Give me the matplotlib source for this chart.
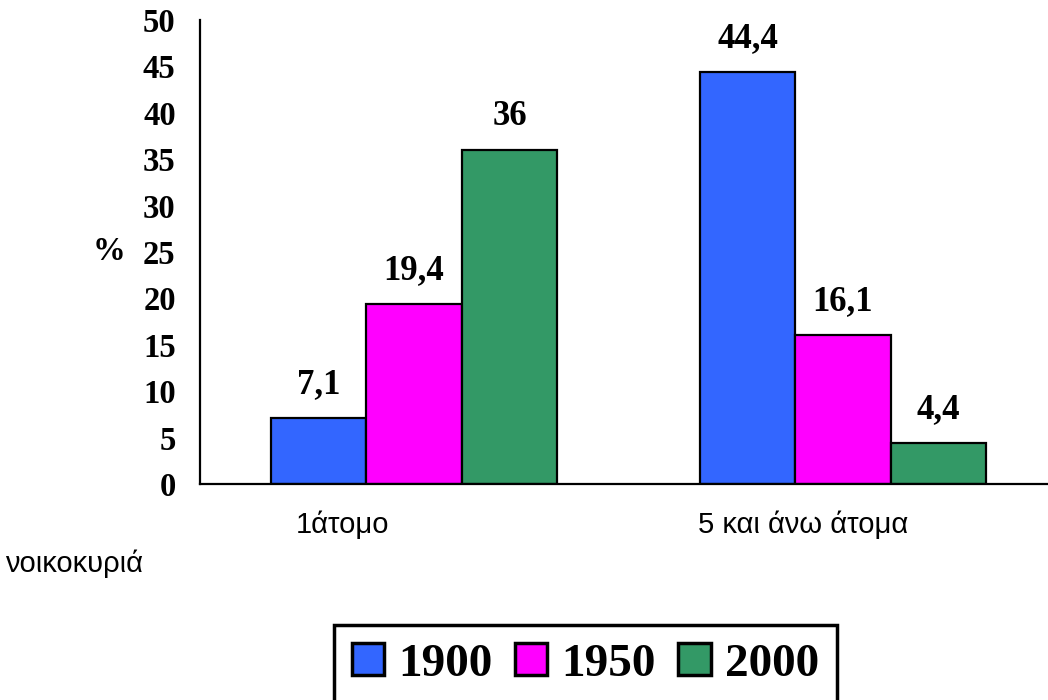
import numpy as np
import matplotlib
matplotlib.use("Agg")
import matplotlib.pyplot as plt

# data
categories = ["1άτομο", "5 και άνω άτομα"]
years = ["1900", "1950", "2000"]
values_1900 = [7.1, 44.4]
values_1950 = [19.4, 16.1]
values_2000 = [36, 4.4]
colors = ["#3366FF", "#FF00FF", "#339966"]

serif = ["Liberation Serif", "DejaVu Serif"]
sans = ["Liberation Sans", "DejaVu Sans"]

fig = plt.figure(figsize=(10.48, 7.0), dpi=100)
ax = fig.add_axes([200 / 1048, 1 - 484 / 700, 848 / 1048, 464 / 700])

x = np.arange(len(categories))
w = 0.2226
series = [values_1900, values_1950, values_2000]
for i, (vals, col, yr) in enumerate(zip(series, colors, years)):
    bars = ax.bar(x + (i - 1) * w, vals, w, color=col, edgecolor="black",
                  linewidth=1.6, label=yr)
    labels = ["{:g}".format(v).replace(".", ",") for v in vals]
    ax.bar_label(bars, labels=labels, padding=12, fontsize=25,
                 fontweight="bold", family=serif)

ax.set_xlim(-0.4988, 1.478)
ax.set_ylim(0, 50)
ax.set_yticks(np.arange(0, 51, 5))
ax.tick_params(axis="y", length=0, pad=17.5)
for t in ax.get_yticklabels():
    t.set_fontsize(23.5)
    t.set_fontweight("bold")
    t.set_family(serif)

# category labels are offset from the bar groups in the original
ax.set_xticks([-0.166, 0.907])
ax.set_xticklabels(categories, fontsize=21, family=sans)
ax.tick_params(axis="x", length=0, pad=19)

ax.set_ylabel("%", rotation=0, fontsize=23.5, fontweight="bold", family=serif,
              va="center", ha="center")
ax.yaxis.set_label_coords(-0.107, 0.5)

for s in ["top", "right"]:
    ax.spines[s].set_visible(False)
ax.spines["left"].set_linewidth(1.6)
ax.spines["bottom"].set_linewidth(1.6)

fig.text(5 / 1048, 1 - 564 / 700, "νοικοκυριά", fontsize=21, family=sans,
         ha="left", va="center")

leg = fig.legend(loc="upper left", bbox_to_anchor=(334 / 1048, 1 - 625 / 700),
                 ncol=3, prop={"family": serif, "size": 34, "weight": "bold"},
                 handlelength=0.68, handleheight=0.68, handletextpad=0.3,
                 columnspacing=0.48, borderpad=0.38, borderaxespad=0,
                 frameon=True, fancybox=False, framealpha=1)
leg.get_frame().set_edgecolor("black")
leg.get_frame().set_linewidth(2.5)
for h in leg.legend_handles:
    h.set_linewidth(2.5)

fig.savefig("out.png", dpi=100)
